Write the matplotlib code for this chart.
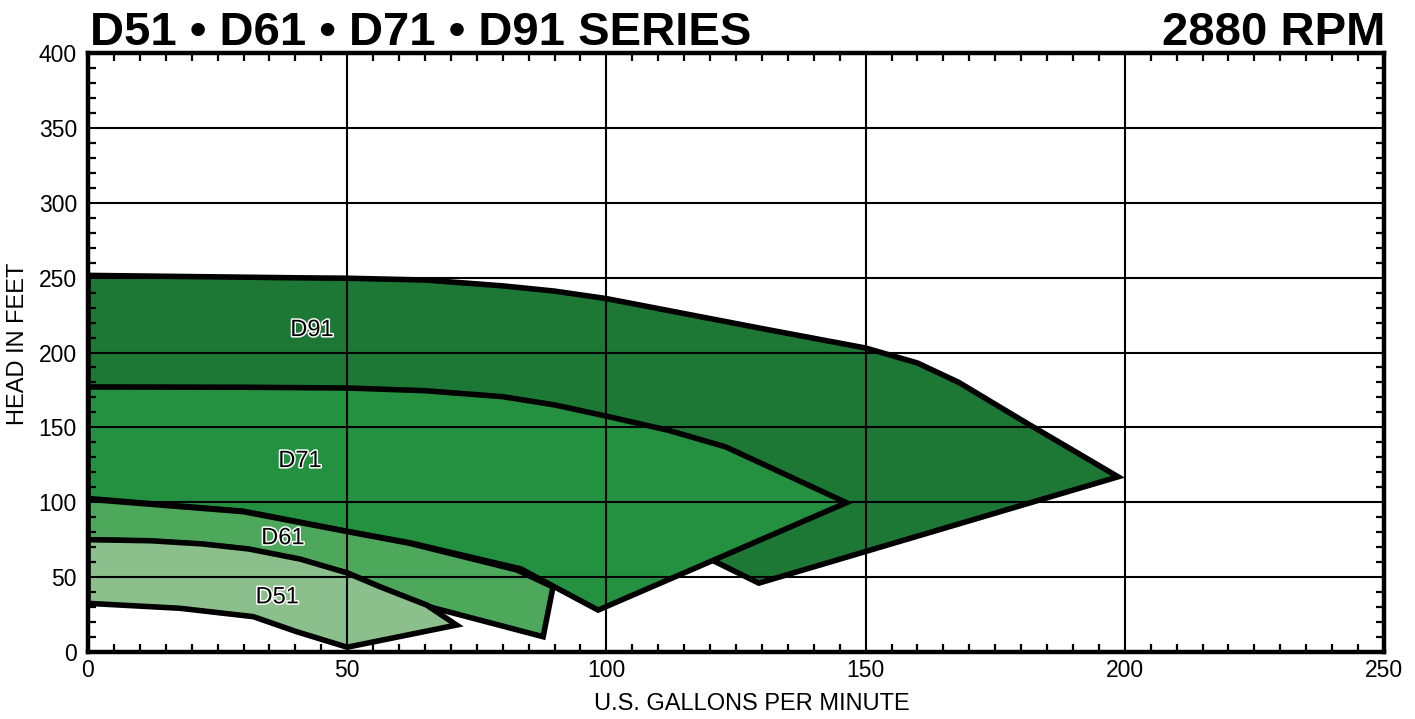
import matplotlib
matplotlib.use("Agg")
import matplotlib.pyplot as plt
from matplotlib.patches import Polygon
from matplotlib.ticker import MultipleLocator
import matplotlib.patheffects as pe

plt.rcParams['font.family'] = ['Liberation Sans', 'DejaVu Sans']

# ---- data (gpm, head ft) ----
d91_x = [0, 20, 40, 50, 65, 80, 90, 100, 115, 130, 150, 160, 168, 181, 198.7, 129.4, 121, 115, 0]
d91_y = [251.5, 250.7, 249.9, 249.6, 248.4, 244.5, 241, 236, 226, 216, 203, 193, 180, 153, 117, 46, 60.3, 70, 150]

d71_x = [0, 30, 50, 65, 80, 90, 100, 112, 123, 146.3, 98.4, 83.5, 62, 50, 30, 0]
d71_y = [177, 176.8, 176.3, 174.5, 170.5, 165, 157.5, 148, 137, 99.7, 28, 55.5, 73, 80.6, 94, 102.5]

d61_x = [0, 30, 50, 62, 82.7, 89.7, 87.8, 66.6, 60, 50, 41, 31, 21.6, 12, 0]
d61_y = [102, 93.7, 80.4, 72.6, 54.8, 43.4, 10.2, 29.5, 38, 52.8, 61.4, 68.5, 72, 74, 75]

d51_x = [0, 12, 22, 31, 41, 50, 56.3, 65.3, 71.1, 50, 40.2, 31.9, 17.7, 0]
d51_y = [75, 74.3, 72.2, 68.8, 62, 52.8, 43.6, 31.4, 18, 3.2, 13.6, 23.6, 29.2, 32.5]

series_names = ["D91", "D71", "D61", "D51"]
series_colors = ["#1d7836", "#23913f", "#4ea85c", "#8bc08c"]
label_x = [43.2, 40.9, 37.6, 36.5]
label_y = [215, 127.5, 76, 36.5]

x_ticks = [0, 50, 100, 150, 200, 250]
y_ticks = [0, 50, 100, 150, 200, 250, 300, 350, 400]

W, H = 1415, 719
fig = plt.figure(figsize=(W / 100, H / 100), dpi=100)
ax = fig.add_axes([88 / W, (H - 652) / H, (1384 - 88) / W, (652 - 53) / H])

polys = [(d91_x, d91_y), (d71_x, d71_y), (d61_x, d61_y), (d51_x, d51_y)]
for i, ((xs, ys), c) in enumerate(zip(polys, series_colors)):
    p = Polygon(list(zip(xs, ys)), closed=True, facecolor=c, edgecolor='black',
                linewidth=4, joinstyle='miter', zorder=1 + i * 0.1)
    ax.add_patch(p)

for name, lx, ly in zip(series_names, label_x, label_y):
    ax.text(lx, ly, name, fontsize=17, color='black', ha='center', va='center', zorder=5,
            path_effects=[pe.withStroke(linewidth=2.2, foreground='white')])

ax.set_xlim(0, 250)
ax.set_ylim(0, 400)
ax.set_xticks(x_ticks)
ax.set_yticks(y_ticks)
ax.xaxis.set_minor_locator(MultipleLocator(5))
ax.yaxis.set_minor_locator(MultipleLocator(10))
ax.set_axisbelow(False)
ax.grid(True, which='major', color='black', linewidth=1.5, zorder=2.5)
ax.tick_params(which='major', length=0, labelsize=16.5, pad=5)
ax.tick_params(axis='y', which='major', pad=8)
ax.tick_params(which='minor', direction='in', length=6, width=1.6,
               top=True, right=True, bottom=True, left=True)
for s in ax.spines.values():
    s.set_linewidth(3.2)
    s.set_zorder(6)

fig.text(752 / W, (H - 704) / H, "U.S. GALLONS PER MINUTE", fontsize=17, ha='center', va='center')
fig.text(18 / W, (H - 343.5) / H, "HEAD IN FEET", fontsize=17, rotation=90, ha='center', va='center')

fig.text(90 / W, (H - 45) / H, "D51 \u2022 D61 \u2022 D71 \u2022 D91 SERIES", fontsize=34,
         fontweight='bold', ha='left', va='baseline')
fig.text(1385 / W, (H - 45) / H, "2880 RPM", fontsize=34, fontweight='bold', ha='right', va='baseline')

fig.savefig("out.png", dpi=100)
